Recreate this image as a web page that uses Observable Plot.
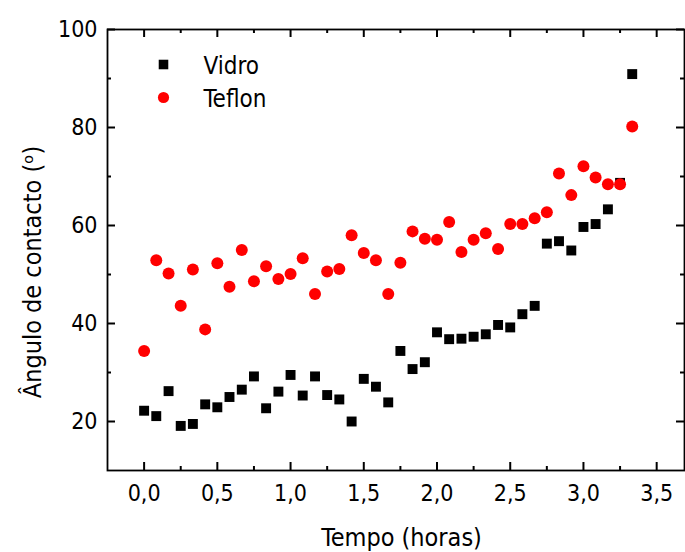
<!DOCTYPE html>
<html>
<head>
<meta charset="utf-8">
<script src="https://cdn.jsdelivr.net/npm/d3@7"></script>
<script src="https://cdn.jsdelivr.net/npm/@observablehq/plot@0.6"></script>
<style>
  html, body { margin: 0; padding: 0; background: white; }
  #chart { width: 685px; height: 552px; }
</style>
</head>
<body>
<div id="chart"></div>
<script>
const seriesNames = ["Vidro", "Teflon"];
const seriesColors = ["#000000", "#ff0000"];
const seriesSymbols = ["square", "circle"];
const tempo = [0, 0.083, 0.167, 0.25, 0.333, 0.417, 0.5, 0.583, 0.667, 0.75, 0.833, 0.917,
  1.0, 1.083, 1.167, 1.25, 1.333, 1.417, 1.5, 1.583, 1.667, 1.75, 1.833, 1.917,
  2.0, 2.083, 2.167, 2.25, 2.333, 2.417, 2.5, 2.583, 2.667, 2.75, 2.833, 2.917,
  3.0, 3.083, 3.167, 3.25, 3.333];
const vidro = [22.2, 21.1, 26.2, 19.1, 19.5, 23.5, 22.9, 25.0, 26.5, 29.2, 22.7, 26.1,
  29.5, 25.3, 29.2, 25.4, 24.5, 20.0, 28.7, 27.1, 23.9, 34.4, 30.7, 32.1,
  38.2, 36.8, 36.9, 37.3, 37.8, 39.7, 39.2, 41.9, 43.6, 56.3, 56.8, 54.9,
  59.7, 60.3, 63.3, 68.7, 90.9];
const teflon = [34.4, 52.9, 50.2, 43.6, 51.0, 38.8, 52.3, 47.5, 55.0, 48.6, 51.7, 49.1,
  50.1, 53.3, 46.0, 50.6, 51.1, 58.0, 54.4, 52.9, 46.0, 52.4, 58.8, 57.3,
  57.1, 60.7, 54.6, 57.1, 58.4, 55.2, 60.3, 60.3, 61.5, 62.7, 70.6, 66.2,
  72.1, 69.8, 68.4, 68.4, 80.2];
const xDomain = [-0.25, 3.69];
const yDomain = [10, 100];
const xMajorTicks = [0, 0.5, 1.0, 1.5, 2.0, 2.5, 3.0, 3.5];
const xMinorTicks = [0.25, 0.75, 1.25, 1.75, 2.25, 2.75, 3.25];
const yMajorTicks = [20, 40, 60, 80, 100];
const yMinorTicks = [30, 50, 70, 90];
const xLabel = "Tempo (horas)";
const yLabel = "Ângulo de contacto (ᵒ)";

const rowsVidro = tempo.map((t, i) => ({t, v: vidro[i]}));
const rowsTeflon = tempo.map((t, i) => ({t, v: teflon[i]}));
const fmt = d => d.toFixed(1).replace(".", ",");

const W = 685, H = 552, mL = 107, mR = 1, mT = 29, mB = 82;
const plotW = W - mL - mR, plotH = H - mT - mB;
const MAJ = 8, MIN = 4;
const tk = {stroke: "black", strokeWidth: 2};

const chart = Plot.plot({
  width: W,
  height: H,
  marginLeft: mL,
  marginRight: mR,
  marginTop: mT,
  marginBottom: mB,
  style: {fontFamily: "'DejaVu Sans Condensed', 'DejaVu Sans', sans-serif", fontStretch: "condensed", fontSize: "23px", color: "black", background: "white", overflow: "visible"},
  x: {domain: xDomain},
  y: {domain: yDomain},
  marks: [
    // inward ticks on all four sides (length in pixels via insets)
    Plot.tickX(xMajorTicks, {x: d => d, insetTop: plotH - MAJ, ...tk}),
    Plot.tickX(xMinorTicks, {x: d => d, insetTop: plotH - MIN, ...tk}),
    Plot.tickX(xMajorTicks, {x: d => d, insetBottom: plotH - MAJ, ...tk}),
    Plot.tickX(xMinorTicks, {x: d => d, insetBottom: plotH - MIN, ...tk}),
    Plot.tickY(yMajorTicks, {y: d => d, insetRight: plotW - MAJ, ...tk}),
    Plot.tickY(yMinorTicks, {y: d => d, insetRight: plotW - MIN, ...tk}),
    Plot.tickY(yMajorTicks, {y: d => d, insetLeft: plotW - MAJ, ...tk}),
    Plot.tickY(yMinorTicks, {y: d => d, insetLeft: plotW - MIN, ...tk}),
    // tick labels
    Plot.axisX({anchor: "bottom", ticks: xMajorTicks, tickSize: 0, tickPadding: 14, tickFormat: fmt, fontSize: 23, label: null}),
    Plot.axisY({anchor: "left", ticks: yMajorTicks, tickSize: 0, tickPadding: 10, tickFormat: d => String(d), fontSize: 23, label: null}),
    Plot.frame({stroke: "black", strokeWidth: 1.8}),
    // data
    Plot.dot(rowsVidro, {x: "t", y: "v", symbol: seriesSymbols[0], r: 5.6, fill: seriesColors[0]}),
    Plot.dot(rowsTeflon, {x: "t", y: "v", symbol: seriesSymbols[1], r: 6, fill: seriesColors[1]}),
    // legend
    Plot.dot([seriesNames[0]], {frameAnchor: "top-left", dx: 56, dy: 35, symbol: seriesSymbols[0], r: 5.4, fill: seriesColors[0]}),
    Plot.dot([seriesNames[1]], {frameAnchor: "top-left", dx: 56, dy: 68, symbol: seriesSymbols[1], r: 5.6, fill: seriesColors[1]}),
    Plot.text([seriesNames[0]], {text: d => d, frameAnchor: "top-left", dx: 96, dy: 37, textAnchor: "start", lineAnchor: "middle", fontSize: 24}),
    Plot.text([seriesNames[1]], {text: d => d, frameAnchor: "top-left", dx: 96, dy: 70, textAnchor: "start", lineAnchor: "middle", fontSize: 24}),
    // axis titles
    Plot.text([xLabel], {text: d => d, frameAnchor: "bottom", dx: 5.5, dy: 67, textAnchor: "middle", lineAnchor: "middle", fontSize: 25}),
    Plot.text([yLabel], {text: d => d, frameAnchor: "left", dx: -75, dy: 22, rotate: -90, textAnchor: "middle", lineAnchor: "middle", fontSize: 25})
  ]
});
document.getElementById("chart").appendChild(chart);
</script>
</body>
</html>
